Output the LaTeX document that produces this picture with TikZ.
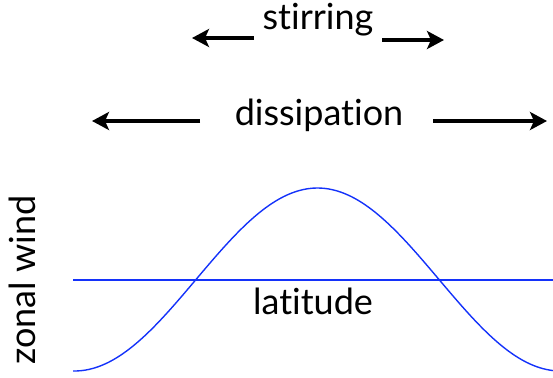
\documentclass[tikz,border=0pt]{standalone}
\usepackage{fontspec}
\setmainfont{Lato}[Ligatures=NoCommon]
\usetikzlibrary{arrows.meta}
\definecolor{curveblue}{RGB}{20,50,250}
\tikzset{
  lbl/.style={font=\fontsize{36}{40}\selectfont, inner sep=0pt},
  bigarrow/.style={line width=3.8pt, -{Stealth[length=17pt,width=18pt,inset=4pt]}},
  wave/.style={curveblue, line width=1.4pt}
}
\begin{document}
\begin{tikzpicture}[x=1pt,y=-1pt]
\useasboundingbox (0,0) rectangle (553,377);
\node[lbl] (stir) at (318,20) {stirring};
\node[lbl] (diss) at (319,115) {dissipation};
\node[lbl] (lat) at (313,301) {latitude};
\node[lbl, rotate=90] (zw) at (22,280) {zonal wind};
\coordinate (sl) at (192,38);
\coordinate (sr) at (444,40);
\coordinate (dl) at (92,121);
\coordinate (dr) at (547,121);
\draw[bigarrow] (254,38) -- (sl);
\draw[bigarrow] (382,40) -- (sr);
\draw[bigarrow] (200,121) -- (dl);
\draw[bigarrow] (433,121) -- (dr);
\coordinate (h0) at (73,280);
\coordinate (h1) at (553,280);
\draw[wave] (h0) -- (h1);
\draw[wave] plot[domain=73:555, samples=120, smooth] (\x, {279.5 - 91.5*cos(0.7407*(\x-317.5))});
\end{tikzpicture}
\end{document}
